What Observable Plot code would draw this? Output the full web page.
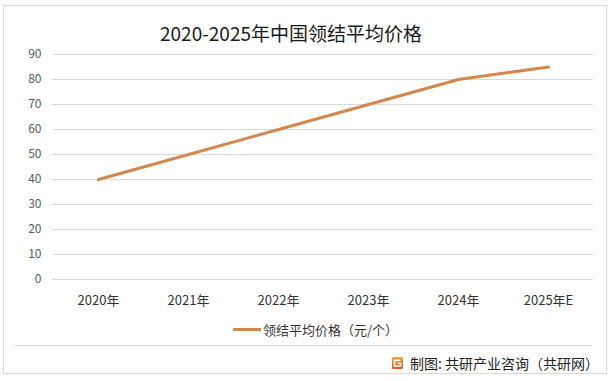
<!DOCTYPE html>
<html>
<head>
<meta charset="utf-8">
<script src="https://cdn.jsdelivr.net/npm/d3@7"></script>
<script src="https://cdn.jsdelivr.net/npm/@observablehq/plot@0.6"></script>
<style>
  html, body { margin: 0; padding: 0; background: #fff; }
  body { width: 614px; height: 381px; overflow: hidden; font-family: "Noto Sans CJK SC", "Noto Sans", sans-serif; }
  #frame { position: absolute; left: 3px; top: 5px; width: 604px; height: 369px; border: 1px solid #d9d9d9; box-sizing: border-box; }
  #title { position: absolute; left: 0; width: 582px; top: 20px; text-align: center; font-size: 19px; color: #1a1a1a; line-height: 26px; }
  #chart { position: absolute; left: 0; top: 0; }
  #legend { position: absolute; left: 233px; top: 320px; height: 18px; display: flex; align-items: center; font-size: 13px; color: #333; }
  #legend .sw { width: 28px; height: 3px; background: #D4884B; margin-right: 2px; }
  #sep { position: absolute; left: 15px; top: 345px; width: 576px; height: 0; border-top: 1px solid #d9d9d9; }
  #footer { position: absolute; left: 392px; top: 354px; height: 18px; display: flex; align-items: center; font-size: 14px; color: #222; }
  #footer svg { margin-right: 7px; }
</style>
</head>
<body>
<div id="frame"></div>
<div id="title">2020-2025年中国领结平均价格</div>
<div id="chart"></div>
<div id="legend"><span class="sw"></span><span id="legendText"></span></div>
<div id="sep"></div>
<div id="footer"><svg width="11" height="12" viewBox="0 0 11 12"><defs><linearGradient id="lg" x1="0" y1="0" x2="0" y2="1"><stop offset="0" stop-color="#f7a23a"/><stop offset="1" stop-color="#e8521f"/></linearGradient></defs><rect x="0" y="0" width="11" height="12" rx="1.5" fill="url(#lg)"/><path d="M2.5 3.2 H8.5 M2.5 3.2 V9 H8.5 V6.2 H5.5" stroke="#fff" stroke-width="1.6" fill="none"/></svg><span id="footerText"></span></div>
<script>
const years = ["2020年", "2021年", "2022年", "2023年", "2024年", "2025年E"];
const prices = [40, 50, 60, 70, 80, 85];
const yTicks = [0, 10, 20, 30, 40, 50, 60, 70, 80, 90];
const seriesName = "领结平均价格（元/个）";
const footerLabel = "制图: 共研产业咨询（共研网）";

document.getElementById("legendText").textContent = seriesName;
document.getElementById("footerText").textContent = footerLabel;

const data = years.map((y, i) => ({year: y, value: prices[i]}));

const chart = Plot.plot({
  width: 614,
  height: 312,
  marginLeft: 52,
  marginRight: 21,
  marginTop: 54,
  marginBottom: 33,
  style: {background: "transparent", fontFamily: "'Noto Sans CJK SC', 'Noto Sans', sans-serif", fontSize: "12px"},
  x: {type: "point", domain: years, padding: 0.5, label: null},
  y: {domain: [0, 90], label: null},
  marks: [
    Plot.ruleY(yTicks, {stroke: "#d9d9d9", strokeWidth: 1}),
    Plot.axisY({ticks: yTicks, tickSize: 0, tickPadding: 11, label: null, color: "#595959", fontSize: 12}),
    Plot.axisX({tickSize: 0, tickPadding: 16, label: null, color: "#333", fontSize: 13}),
    Plot.line(data, {x: "year", y: "value", stroke: "#D4884B", strokeWidth: 3, strokeLinecap: "round", strokeLinejoin: "round"})
  ]
});
document.getElementById("chart").appendChild(chart);
</script>
</body>
</html>
